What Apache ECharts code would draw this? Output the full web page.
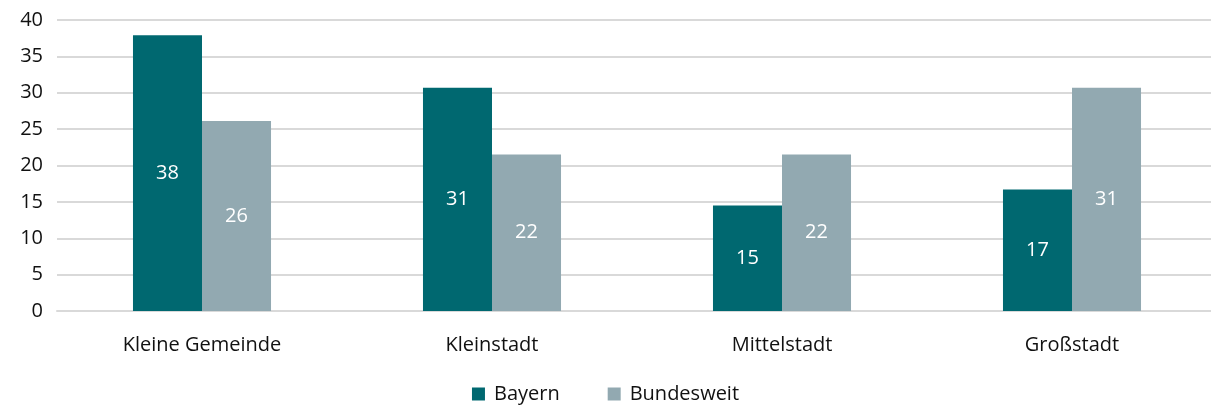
<!DOCTYPE html>
<html>
<head>
<meta charset="utf-8">
<script src="https://cdn.jsdelivr.net/npm/echarts@6/dist/echarts.min.js"></script>
<style>
  html, body { margin: 0; padding: 0; background: #fff; }
  #echarts { width: 1211px; height: 407px; }
</style>
</head>
<body>
<div id="echarts"></div>
<script>
var categories = ['Kleine Gemeinde', 'Kleinstadt', 'Mittelstadt', 'Großstadt'];
var bayernData = [37.9, 30.7, 14.5, 16.7];
var bundesData = [26.1, 21.5, 21.5, 30.7];
var yTicks = [0, 5, 10, 15, 20, 25, 30, 35, 40];

var fontFam = 'Open Sans';
var myChart = echarts.init(document.getElementById('echarts'));

var option = {
    animation: false,
    textStyle: { fontFamily: fontFam },
    grid: { left: 57, right: -6, top: 20, bottom: 96, outerBoundsMode: 'none', containLabel: false },
    legend: {
        bottom: -2,
        left: 'center',
        itemWidth: 13,
        itemHeight: 13,
        itemGap: 48,
        icon: 'rect',
        textStyle: { fontSize: 20, color: '#111', fontFamily: fontFam, padding: [0, 0, 0, 4] },
        data: ['Bayern', 'Bundesweit']
    },
    xAxis: {
        type: 'category',
        data: categories,
        axisTick: { show: false },
        axisLine: { lineStyle: { color: '#d9d9d9', width: 2 } },
        axisLabel: { fontSize: 20, color: '#111', margin: 24, fontFamily: fontFam }
    },
    yAxis: {
        type: 'value',
        min: yTicks[0],
        max: yTicks[yTicks.length - 1],
        interval: 5,
        axisLine: { show: false },
        axisTick: { show: false },
        splitLine: { lineStyle: { color: '#d9d9d9', width: 2 } },
        axisLabel: { fontSize: 20, color: '#111', margin: 14, fontFamily: fontFam }
    },
    series: [{
        name: 'Bayern',
        type: 'bar',
        data: bayernData,
        barGap: '0%',
        barCategoryGap: '52.4%',
        itemStyle: { color: '#006870' },
        label: {
            show: true, position: 'inside', color: '#fff', fontSize: 20, fontFamily: fontFam,
            formatter: function (p) { return Math.round(p.value); }
        }
    }, {
        name: 'Bundesweit',
        type: 'bar',
        data: bundesData,
        itemStyle: { color: '#92a9b1' },
        label: {
            show: true, position: 'inside', color: '#fff', fontSize: 20, fontFamily: fontFam,
            formatter: function (p) { return Math.round(p.value); }
        }
    }]
};

myChart.setOption(option);
</script>
</body>
</html>
